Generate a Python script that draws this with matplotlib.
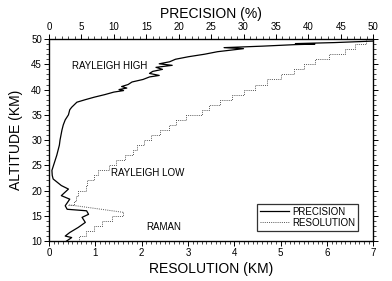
import numpy as np
import matplotlib
matplotlib.use("Agg")
import matplotlib.pyplot as plt
from matplotlib.ticker import MultipleLocator

plt.rcParams['font.family'] = ['Liberation Sans', 'DejaVu Sans']

# precision profile: altitude (km) vs precision (%)
prec_alt = [10.0, 10.7, 11.0, 11.7, 12.7, 13.7, 14.7, 15.3, 16.0, 16.3, 17.0, 18.3,
            19.0, 20.3, 21.0, 22.3, 23.0, 24.0, 25.0, 27.0, 29.0, 30.0, 31.0, 32.0,
            33.0, 34.0, 35.0, 36.0, 36.5, 37.5, 38.0, 38.5, 39.0, 39.5, 39.8, 40.0,
            40.3, 40.6, 41.0, 41.5, 42.0, 42.5, 42.8, 43.2, 43.6, 44.0, 44.4, 44.8,
            45.1, 45.5, 46.0, 46.5, 47.0, 47.5, 47.8, 48.1, 48.3, 48.6, 48.9, 49.0,
            49.1, 49.3, 49.5, 49.6]
prec_pct = [2.7, 3.5, 2.5, 3.2, 4.5, 5.6, 5.1, 6.1, 5.8, 2.8, 2.5, 3.2,
            1.9, 3.0, 1.9, 0.64, 0.5, 0.45, 0.7, 1.2, 1.6, 1.7, 1.85, 2.0,
            2.2, 2.5, 3.0, 3.2, 3.5, 4.3, 5.6, 7.0, 8.6, 10.0, 11.5, 10.8,
            12.0, 11.2, 12.2, 12.8, 14.5, 15.5, 17.0, 15.5, 16.0, 17.5, 16.5, 19.0,
            17.0, 18.6, 19.5, 21.5, 24.0, 26.0, 28.0, 30.0, 27.0, 33.0, 38.0, 41.0,
            38.0, 44.0, 48.0, 50.0]

# resolution profile (km), stepwise
res_low_alt = [10, 11, 12, 13, 14, 15, 15.7]
res_low_km = [0.58, 0.65, 0.8, 0.98, 1.15, 1.35, 1.6]
res_high_alt = [17.2, 18, 19, 20, 21, 22, 23, 24, 25, 26, 27, 28, 29, 30,
                31, 32, 33, 34, 35, 36, 37, 38, 39, 40, 41, 42, 43, 44, 45,
                46, 47, 48, 49, 50]
res_high_km = [0.42, 0.55, 0.58, 0.62, 0.8, 0.82, 0.98, 1.05, 1.3, 1.45, 1.65, 1.82, 1.9, 2.05,
               2.2, 2.4, 2.6, 2.75, 2.95, 3.3, 3.45, 3.7, 3.95, 4.2, 4.45, 4.7, 5.0, 5.3, 5.5,
               5.75, 6.05, 6.4, 6.6, 6.85]

fig = plt.figure(figsize=(3.92, 2.81), dpi=100)
ax = fig.add_axes([0.125, 0.142, 0.827, 0.719])
ax.set_xlim(0, 7)
ax.set_ylim(10, 50)

res_style = dict(color='#555555', lw=0.7, ls=(0, (1, 1.2)))
ax.plot(res_low_km, res_low_alt, drawstyle='steps-post', **res_style)
ax.plot([res_low_km[-1], res_high_km[0]], [res_low_alt[-1], res_high_alt[0]], **res_style)
ax.plot(res_high_km, res_high_alt, drawstyle='steps-post', **res_style,
        label='RESOLUTION')

ax2 = ax.twiny()
ax2.set_xlim(0, 50)
ax2.plot(prec_pct, prec_alt, color='black', lw=0.9, label='PRECISION')

ax.xaxis.set_major_locator(MultipleLocator(1))
ax.xaxis.set_minor_locator(MultipleLocator(0.1))
ax.yaxis.set_major_locator(MultipleLocator(5))
ax.yaxis.set_minor_locator(MultipleLocator(1))
ax2.xaxis.set_major_locator(MultipleLocator(5))
ax2.xaxis.set_minor_locator(MultipleLocator(1))

for a in (ax, ax2):
    a.tick_params(which='major', direction='out', length=3.5, width=0.7, labelsize=7, pad=1.5)
    a.tick_params(which='minor', direction='out', length=2, width=0.5)
ax.tick_params(axis='y', which='both', right=True)
for s in ax.spines.values():
    s.set_linewidth(0.9)

ax.set_xlabel('RESOLUTION (KM)', fontsize=10, labelpad=3)
ax.set_ylabel('ALTITUDE (KM)', fontsize=10, labelpad=6)
ax2.set_xlabel('PRECISION (%)', fontsize=10, labelpad=3)

ax.text(1.32, 44.7, 'RAYLEIGH HIGH', fontsize=7, ha='center', va='center')
ax.text(2.14, 23.5, 'RAYLEIGH LOW', fontsize=7, ha='center', va='center')
ax.text(2.48, 12.7, 'RAMAN', fontsize=7, ha='center', va='center')

h1, l1 = ax2.get_legend_handles_labels()
h2, l2 = ax.get_legend_handles_labels()
leg = ax.legend(h1 + h2, l1 + l2, loc='upper left', bbox_to_anchor=(0.641, 0.185),
                fontsize=7, frameon=True, fancybox=False, edgecolor='black',
                handlelength=3.0, handletextpad=0.3, borderpad=0.3, labelspacing=0.1,
                borderaxespad=0)
leg.get_frame().set_linewidth(0.9)

fig.savefig('out.png', dpi=100)
